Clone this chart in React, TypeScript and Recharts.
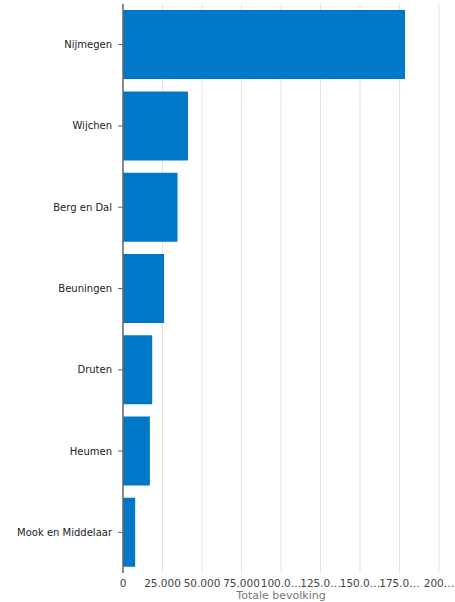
import { BarChart, Bar, XAxis, YAxis, CartesianGrid } from 'recharts';

const gemeenten = ['Nijmegen', 'Wijchen', 'Berg en Dal', 'Beuningen', 'Druten', 'Heumen', 'Mook en Middelaar'];
const bevolking = [178500, 41100, 34500, 26000, 18500, 17000, 7700];
const xTicks = [0, 25000, 50000, 75000, 100000, 125000, 150000, 175000, 200000];
const xTickLabels = ['0', '25.000', '50.000', '75.000', '100.0…', '125.0…', '150.0…', '175.0…', '200…'];

const BAR_COLOR = '#0078c8';
const FONT = 'DejaVu Sans, Verdana, sans-serif';

// plain text tick so long names stay on one line
const CategoryTick = (props: any) => {
  const { x, y, payload } = props;
  return (
    <text x={x} y={y} dy="0.355em" textAnchor="end" fontFamily={FONT} fontSize={10} fill="#222">
      {payload.value}
    </text>
  );
};

export default function App() {
  const data = gemeenten.map((name, i) => ({ name, value: bevolking[i] }));

  return (
    <div style={{ position: 'absolute', left: 0, top: 0, width: 455, height: 602, background: '#fff' }}>
      <BarChart
        width={455}
        height={602}
        data={data}
        layout="vertical"
        margin={{ top: 4, right: 16, bottom: 0, left: 0 }}
        barCategoryGap="7.5%"
      >
        <CartesianGrid horizontal={false} stroke="#e3e3e3" />
        <XAxis
          type="number"
          domain={[0, 200000]}
          ticks={xTicks}
          tickFormatter={(v: number) => xTickLabels[xTicks.indexOf(v)] ?? String(v)}
          axisLine={false}
          tickLine={false}
          tickSize={0}
          tickMargin={7}
          height={29}
          tick={{ fontFamily: FONT, fontSize: 10.5, fill: '#444' }}
          interval={0}
          label={{
            value: 'Totale bevolking',
            position: 'insideBottom',
            offset: 3,
            style: { fontFamily: FONT, fontSize: 11, fill: '#777' },
          }}
        />
        <YAxis
          type="category"
          dataKey="name"
          width={123}
          axisLine={{ stroke: '#666', strokeWidth: 1.5 }}
          tickLine={{ stroke: '#666' }}
          tickSize={5}
          tickMargin={6}
          interval={0}
          tick={CategoryTick}
        />
        <Bar dataKey="value" fill={BAR_COLOR} isAnimationActive={false} />
      </BarChart>
    </div>
  );
}
